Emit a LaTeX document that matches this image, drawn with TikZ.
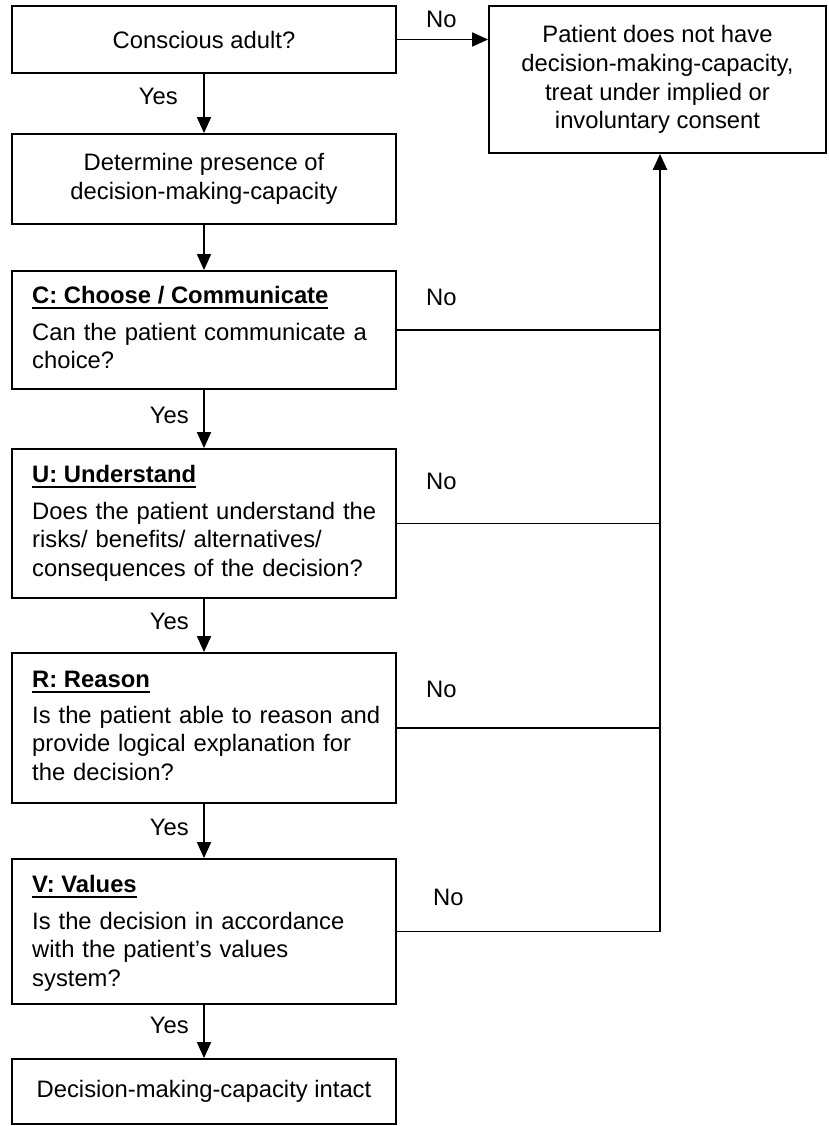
\documentclass[tikz,border=0pt]{standalone}
\usepackage{fontspec}
\setmainfont{Liberation Sans}
\usetikzlibrary{arrows.meta}
% bold heading with a heavy underline below the baseline
\newcommand\headline[1]{\vtop{\hbox{\bfseries #1}\kern3.4pt\hrule height 2.4pt}}
\begin{document}
\begin{tikzpicture}[x=1pt,y=-1pt,
  txt/.style={font=\fontsize{23.8}{28.7}\selectfont, inner sep=0pt},
  box/.style={draw, rectangle, line width=1.8pt, inner sep=0pt, txt},
  link/.style={line width=1.8pt},
  arr/.style={line width=1.8pt, -{Triangle[length=16pt,width=14pt]}},
  lbl/.style={txt, anchor=base east},
  nolbl/.style={txt, anchor=base west},
  head/.style={txt, anchor=base west},
  body/.style={txt, anchor=base west, align=left, text width=360pt}]
\useasboundingbox (0,0) rectangle (828,1126);

% boxes of the main column
\node[box, minimum width=384pt, minimum height=67pt] (adult) at (204,39.5) {Conscious adult?};
\node[box, align=center, minimum width=384pt, minimum height=90pt] (determine) at (204,179) {Determine presence of\\decision-making-capacity};
\node[box, minimum width=384pt, minimum height=118pt] (choose) at (204,330) {};
\node[box, minimum width=384pt, minimum height=149pt] (understand) at (204,523.5) {};
\node[box, minimum width=384pt, minimum height=150pt] (reason) at (204,728) {};
\node[box, minimum width=384pt, minimum height=145pt] (values) at (204,931.5) {};
\node[box, minimum width=384pt, minimum height=65pt] (intact) at (204,1091.5) {Decision-making-capacity intact};

% outcome box on the right
\node[box, align=center, minimum width=337pt, minimum height=147pt] (nocap) at (657.5,79.5) {Patient does not have\\decision-making-capacity,\\treat under implied or\\involuntary consent};

% texts of the four criteria
\node[head] (chead) at (32,303) {\headline{C: Choose / Communicate}};
\node[body] (cbody) at (32,340) {Can the patient communicate a\\choice?};
\node[head] (uhead) at (32,482) {\headline{U: Understand}};
\node[body] (ubody) at (32,519) {Does the patient understand the\\risks/ benefits/ alternatives/\\consequences of the decision?};
\node[head] (rhead) at (32,687) {\headline{R: Reason}};
\node[body] (rbody) at (32,723) {Is the patient able to reason and\\provide logical explanation for\\the decision?};
\node[head] (vhead) at (32,892) {\headline{V: Values}};
\node[body] (vbody) at (32,929) {Is the decision in accordance\\with the patient’s values\\system?};

% "Yes" path down the column
\draw[arr] (adult) -- (determine);
\draw[arr] (determine) -- (choose);
\draw[arr] (choose) -- (understand);
\draw[arr] (understand) -- (reason);
\draw[arr] (reason) -- (values);
\draw[arr] (values) -- (intact);

\node[lbl] (y1) at (178,105) {Yes};
\node[lbl] (y2) at (189,423) {Yes};
\node[lbl] (y3) at (189,629) {Yes};
\node[lbl] (y4) at (189,835) {Yes};
\node[lbl] (y5) at (189,1033) {Yes};

% "No" paths to the outcome box
\draw[arr] (adult.east) -- (adult.east -| nocap.west);
\coordinate (busend) at (660,931.5);
\draw[line width=2.2pt, -{Triangle[length=16pt,width=14pt]}] (busend) -- (busend |- nocap.south);
\draw[link] (choose.east) -- (choose.east -| busend);
\draw[link] (understand.east) -- (understand.east -| busend);
\draw[link] (reason.east) -- (reason.east -| busend);
\draw[link] (values.east) -- (values.east -| busend);

\node[nolbl] (n1) at (426,28) {No};
\node[nolbl] (n2) at (426,305) {No};
\node[nolbl] (n3) at (426,489) {No};
\node[nolbl] (n4) at (426,697) {No};
\node[nolbl] (n5) at (433,905) {No};
\end{tikzpicture}
\end{document}
